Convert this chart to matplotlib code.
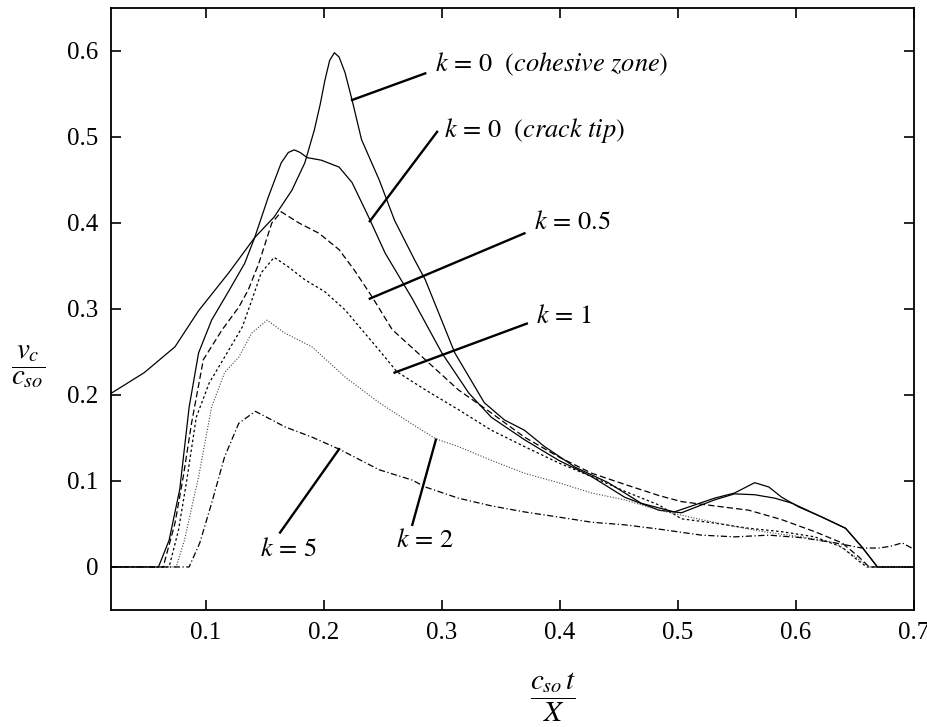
import matplotlib
matplotlib.use("Agg")
import matplotlib.pyplot as plt

plt.rcParams['font.family'] = ['Liberation Serif', 'DejaVu Serif']
plt.rcParams['mathtext.fontset'] = 'stix'

# values
cz_x = [0.02, 0.048, 0.074, 0.094, 0.1195, 0.1415, 0.158, 0.173, 0.184, 0.192, 0.197, 0.201,
        0.205, 0.209, 0.213, 0.218, 0.224, 0.232, 0.247, 0.26, 0.277, 0.286, 0.311, 0.336,
        0.353, 0.370, 0.387, 0.413, 0.441, 0.469, 0.497, 0.531, 0.548, 0.565, 0.577, 0.588,
        0.602, 0.622, 0.642, 0.656, 0.669, 0.7]
cz_y = [0.202, 0.226, 0.256, 0.298, 0.342, 0.383, 0.407, 0.438, 0.47, 0.508, 0.538, 0.566,
        0.589, 0.598, 0.593, 0.575, 0.543, 0.497, 0.45, 0.403, 0.357, 0.334, 0.249, 0.191,
        0.171, 0.159, 0.14, 0.116, 0.098, 0.074, 0.064, 0.08, 0.086, 0.098, 0.093, 0.081,
        0.07, 0.058, 0.045, 0.023, 0.0, 0.0]

ct_x = [0.02, 0.06, 0.069, 0.078, 0.086, 0.094, 0.105, 0.12, 0.133, 0.1415, 0.153, 0.164,
        0.17, 0.175, 0.18, 0.186, 0.198, 0.213, 0.224, 0.238, 0.252, 0.275, 0.3, 0.323, 0.342,
        0.37, 0.399, 0.427, 0.455, 0.484, 0.503, 0.531, 0.548, 0.565, 0.582, 0.597, 0.622,
        0.642, 0.656, 0.669, 0.7]
ct_y = [0.0, 0.0, 0.031, 0.09, 0.186, 0.249, 0.287, 0.322, 0.353, 0.383, 0.43, 0.47,
        0.482, 0.485, 0.482, 0.476, 0.473, 0.465, 0.447, 0.407, 0.365, 0.312, 0.249, 0.202,
        0.174, 0.148, 0.124, 0.105, 0.081, 0.066, 0.063, 0.078, 0.085, 0.084, 0.08, 0.074,
        0.058, 0.045, 0.023, 0.0, 0.0]

k05_x = [0.02, 0.064, 0.074, 0.081, 0.088, 0.098, 0.114, 0.128, 0.136, 0.145, 0.156, 0.164,
         0.179, 0.196, 0.213, 0.226, 0.241, 0.258, 0.286, 0.314, 0.342, 0.37, 0.399, 0.427,
         0.455, 0.484, 0.503, 0.531, 0.56, 0.588, 0.616, 0.639, 0.653, 0.662, 0.7]
k05_y = [0.0, 0.0, 0.051, 0.105, 0.167, 0.241, 0.276, 0.302, 0.322, 0.353, 0.4, 0.413,
         0.4, 0.388, 0.369, 0.345, 0.314, 0.276, 0.241, 0.206, 0.179, 0.151, 0.128, 0.109,
         0.096, 0.083, 0.076, 0.071, 0.066, 0.055, 0.041, 0.028, 0.012, 0.0, 0.0]

k1_x = [0.02, 0.069, 0.077, 0.084, 0.092, 0.103, 0.116, 0.131, 0.139, 0.147, 0.158, 0.17,
        0.184, 0.201, 0.218, 0.247, 0.262, 0.286, 0.314, 0.342, 0.37, 0.399, 0.427, 0.455,
        0.484, 0.503, 0.531, 0.56, 0.588, 0.616, 0.639, 0.653, 0.66, 0.7]
k1_y = [0.0, 0.0, 0.043, 0.101, 0.174, 0.214, 0.244, 0.279, 0.31, 0.342, 0.36, 0.349,
        0.334, 0.32, 0.299, 0.252, 0.227, 0.206, 0.183, 0.159, 0.14, 0.121, 0.105, 0.088,
        0.072, 0.056, 0.051, 0.045, 0.041, 0.035, 0.023, 0.007, 0.0, 0.0]

k2_x = [0.02, 0.075, 0.082, 0.094, 0.105, 0.116, 0.128, 0.139, 0.152, 0.167, 0.19, 0.218,
        0.247, 0.275, 0.295, 0.314, 0.342, 0.37, 0.399, 0.427, 0.455, 0.484, 0.52, 0.548,
        0.577, 0.605, 0.633, 0.65, 0.662, 0.7]
k2_y = [0.0, 0.0, 0.031, 0.105, 0.186, 0.226, 0.244, 0.272, 0.287, 0.272, 0.256, 0.221,
        0.191, 0.166, 0.149, 0.14, 0.124, 0.109, 0.098, 0.086, 0.078, 0.066, 0.055, 0.047,
        0.04, 0.035, 0.028, 0.012, 0.0, 0.0]

k5_x = [0.02, 0.086, 0.095, 0.105, 0.116, 0.128, 0.142, 0.156, 0.167, 0.19, 0.213, 0.247,
        0.275, 0.286, 0.314, 0.342, 0.37, 0.399, 0.427, 0.455, 0.484, 0.52, 0.548, 0.577,
        0.605, 0.633, 0.656, 0.67, 0.68, 0.69, 0.698]
k5_y = [0.0, 0.0, 0.028, 0.074, 0.128, 0.167, 0.181, 0.171, 0.163, 0.151, 0.137, 0.113,
        0.101, 0.093, 0.08, 0.071, 0.064, 0.058, 0.052, 0.049, 0.044, 0.037, 0.035, 0.037,
        0.034, 0.028, 0.022, 0.022, 0.024, 0.028, 0.022]

x_ticks = [0.1, 0.2, 0.3, 0.4, 0.5, 0.6, 0.7]
y_ticks = [0, 0.1, 0.2, 0.3, 0.4, 0.5, 0.6]
y_ticklabels = ['0', '0.1', '0.2', '0.3', '0.4', '0.5', '0.6']

# label text, leader line start (on curve), leader line end, text position
labels = [
    (r'$k\,=\,0\ \ (cohesive\ zone)$', (0.224, 0.543), (0.286, 0.574), (0.294, 0.584)),
    (r'$k\,=\,0\ \ (crack\ tip)$', (0.239, 0.402), (0.296, 0.506), (0.302, 0.508)),
    (r'$k\,=\,0.5$', (0.239, 0.312), (0.370, 0.388), (0.378, 0.401)),
    (r'$k\,=\,1$', (0.260, 0.226), (0.372, 0.283), (0.380, 0.291)),
    (r'$k\,=\,2$', (0.295, 0.148), (0.275, 0.049), (0.261, 0.031)),
    (r'$k\,=\,5$', (0.213, 0.137), (0.163, 0.040), (0.146, 0.020)),
]

fig = plt.figure(figsize=(9.27, 7.27), dpi=100)
ax = fig.add_axes([0.12, 0.161, 0.866, 0.828])

lw = 0.9
ax.plot(cz_x, cz_y, color='black', lw=lw, linestyle='-')
ax.plot(ct_x, ct_y, color='black', lw=lw, linestyle='-')
ax.plot(k05_x, k05_y, color='black', lw=lw, linestyle=(0, (5, 2.5)))
ax.plot(k1_x, k1_y, color='black', lw=lw, linestyle=(0, (2, 2)))
ax.plot(k2_x, k2_y, color='#444444', lw=0.8, linestyle=(0, (1, 1.5)))
ax.plot(k5_x, k5_y, color='black', lw=lw, linestyle=(0, (5, 2, 1, 2)))

for text, p0, p1, pt in labels:
    ax.plot([p0[0], p1[0]], [p0[1], p1[1]], color='black', lw=1.7)
    ax.text(pt[0], pt[1], text, fontsize=19, ha='left', va='center')

ax.set_xlim(0.02, 0.7)
ax.set_ylim(-0.05, 0.65)
ax.set_xticks(x_ticks)
ax.set_xticklabels([str(t) for t in x_ticks])
ax.set_yticks(y_ticks)
ax.set_yticklabels(y_ticklabels)
ax.tick_params(direction='in', top=True, right=True, length=7, width=1.2,
               labelsize=18, pad=9)
for s in ax.spines.values():
    s.set_linewidth(1.3)

ax.text(-0.103, 0.405, r'$\dfrac{v_c}{c_{so}}$', transform=ax.transAxes,
        fontsize=21, ha='center', va='center')
ax.text(0.551, -0.145, r'$\dfrac{c_{so}\,t}{X}$', transform=ax.transAxes,
        fontsize=21, ha='center', va='center')

fig.savefig('out.png', dpi=100)
